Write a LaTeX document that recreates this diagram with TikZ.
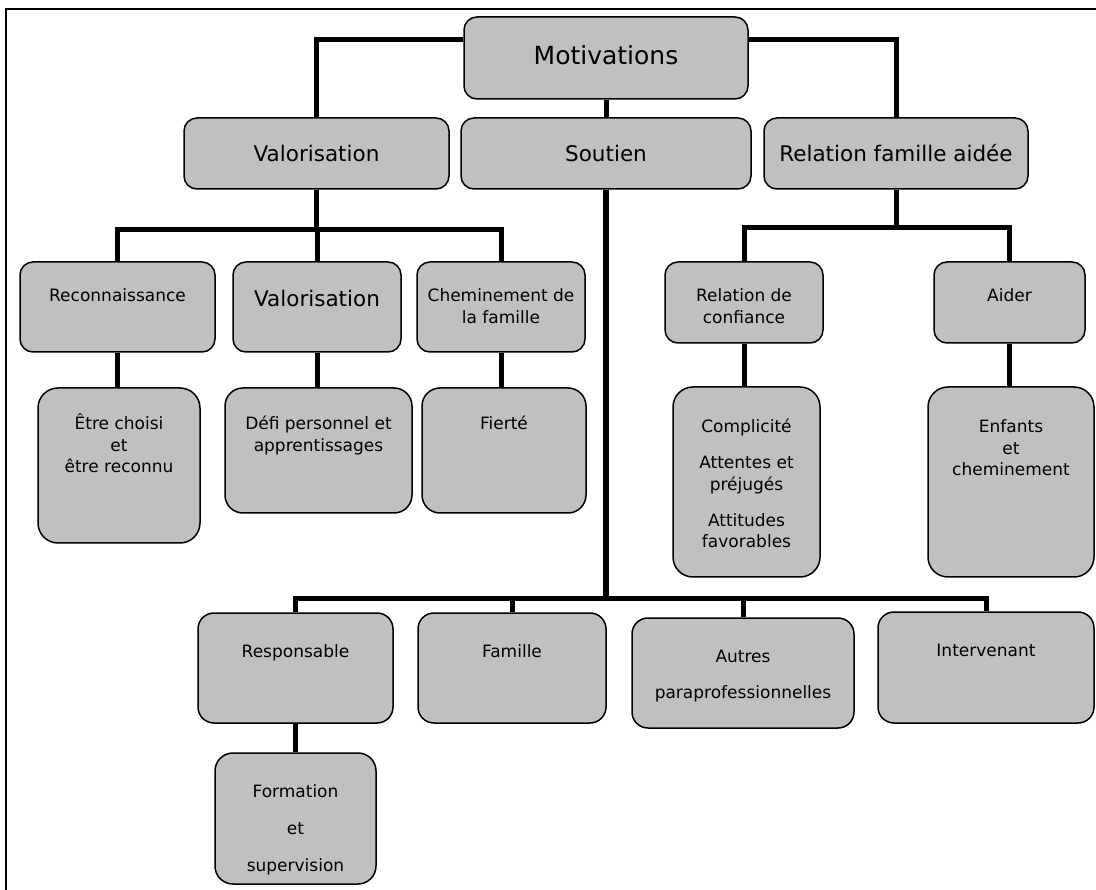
\documentclass[tikz,border=0pt]{standalone}
\usepackage{fontspec}
\setmainfont{DejaVu Sans}
\usetikzlibrary{positioning}
\definecolor{boxgray}{HTML}{C0C0C0}
\tikzset{
  box/.style={draw, line width=1.5pt, rounded corners=13pt, fill=boxgray, inner sep=0pt},
  txt/.style={anchor=base, align=center, inner sep=0pt, font=\fontsize{17}{21.5}\selectfont},
  bigtxt/.style={txt, font=\fontsize{21.5}{26}\selectfont},
  link/.style={line width=5pt},
}

\begin{document}
\begin{tikzpicture}[x=1pt, y=-1pt]
  \useasboundingbox (0,0) rectangle (1096,890);
  \draw[line width=1.5pt] (6,890) -- (6,9) -- (1096,9);

  % boxes
  \node[box, minimum width=284pt, minimum height=82pt] (mot) at (606,58) {};
  \node[box, minimum width=265pt, minimum height=71pt] (valo) at (316.5,153.5) {};
  \node[box, minimum width=290pt, minimum height=71pt] (sout) at (606,153.5) {};
  \node[box, minimum width=264pt, minimum height=71pt] (rfa) at (896,153.5) {};
  \node[box, minimum width=195pt, minimum height=90pt] (reco) at (117.5,307) {};
  \node[box, minimum width=168pt, minimum height=90pt] (valo2) at (317,307) {};
  \node[box, minimum width=168pt, minimum height=90pt] (chem) at (501,307) {};
  \node[box, minimum width=162pt, minimum height=155pt, rounded corners=20pt] (etre) at (119,465.5) {};
  \node[box, minimum width=187pt, minimum height=125pt, rounded corners=18pt] (defi) at (318.5,450.5) {};
  \node[box, minimum width=164pt, minimum height=125pt, rounded corners=18pt] (fier) at (504,450.5) {};
  \node[box, minimum width=158pt, minimum height=81pt] (rdc) at (744,302.5) {};
  \node[box, minimum width=151pt, minimum height=81pt] (aider) at (1009.5,302.5) {};
  \node[box, minimum width=147pt, minimum height=190pt, rounded corners=20pt] (compl) at (746.5,482) {};
  \node[box, minimum width=166pt, minimum height=190pt, rounded corners=20pt] (enf) at (1011,482) {};
  \node[box, minimum width=195pt, minimum height=110pt, rounded corners=16pt] (resp) at (295.5,668) {};
  \node[box, minimum width=188pt, minimum height=110pt, rounded corners=16pt] (fam) at (512,668) {};
  \node[box, minimum width=222pt, minimum height=110pt, rounded corners=16pt] (autres) at (743,673) {};
  \node[box, minimum width=216pt, minimum height=111pt, rounded corners=16pt] (interv) at (986,667.5) {};
  \node[box, minimum width=161pt, minimum height=131pt, rounded corners=18pt] (form) at (295.5,818.5) {};

  % connectors
  \coordinate (topbar) at (0,40);
  \coordinate (lbar) at (0,230);
  \coordinate (rbar) at (0,228);
  \coordinate (sbar) at (0,598);
  \draw[link] (mot.west |- topbar) -| (valo.north);
  \draw[link] (mot.east |- topbar) -| (rfa.north);
  \draw[link] (mot.south) -- (sout.north);
  \draw[link] (valo.south) -- (valo.south |- lbar);
  \draw[link] (reco.north) |- (chem.north |- lbar) -- (chem.north);
  \draw[link] (valo2.north) -- (valo2.north |- lbar);
  \draw[link] (reco.south) -- (reco.south |- etre.north);
  \draw[link] (valo2.south) -- (valo2.south |- defi.north);
  \draw[link] (chem.south) -- (chem.south |- fier.north);
  \draw[link] (rfa.south) -- (rfa.south |- rbar);
  \draw[link] (rdc.north) |- (aider.north |- rbar) -- (aider.north);
  \draw[link] (rdc.south) -- (rdc.south |- compl.north);
  \draw[link] (aider.south) -- (aider.south |- enf.north);
  \draw[link, line width=6pt] (sout.south) -- (sout.south |- sbar);
  \draw[link] (resp.north) |- (interv.north |- sbar) -- (interv.north);
  \draw[link] (fam.north) -- (fam.north |- sbar);
  \draw[link] (autres.north) -- (autres.north |- sbar);
  \draw[link] (resp.south) -- (form.north);

  % texts (anchored on the baseline of their last line)
  \node[txt, font=\fontsize{25}{30}\selectfont] (mot-t) at (606,65) {Motivations};
  \node[bigtxt] (valo-t) at (316.5,162) {Valorisation};
  \node[bigtxt] (sout-t) at (606,162) {Soutien};
  \node[bigtxt] (rfa-t) at (896,162) {Relation famille aidée};
  \node[txt] (reco-t) at (117.5,302) {Reconnaissance};
  \node[bigtxt] (valo2-t) at (317,307) {Valorisation};
  \node[txt] (chem-t) at (501,323.5) {Cheminement de\\la famille};
  \node[txt] (etre-t) at (119,473) {Être choisi\\et\\être reconnu};
  \node[txt] (defi-t) at (318.5,451.5) {Défi personnel et\\apprentissages};
  \node[txt] (fier-t) at (504,430) {Fierté};
  \node[txt] (rdc-t) at (744,323.5) {Relation de\\confiance};
  \node[txt] (aider-t) at (1009.5,302) {Aider};
  \node[txt] (compl-t) at (746.5,548) {Complicité\\[15pt]Attentes et\\préjugés\\[15pt]Attitudes\\favorables};
  \node[txt] (enf-t) at (1011,476) {Enfants\\et\\cheminement};
  \node[txt] (resp-t) at (295.5,657) {Responsable};
  \node[txt] (fam-t) at (512,657) {Famille};
  \node[txt] (autres-t) at (743,698) {Autres\\[14.5pt]paraprofessionnelles};
  \node[txt] (interv-t) at (986,656) {Intervenant};
  \node[txt] (form-t) at (295.5,871) {Formation\\[15.5pt]et\\[15.5pt]supervision};
\end{tikzpicture}
\end{document}
